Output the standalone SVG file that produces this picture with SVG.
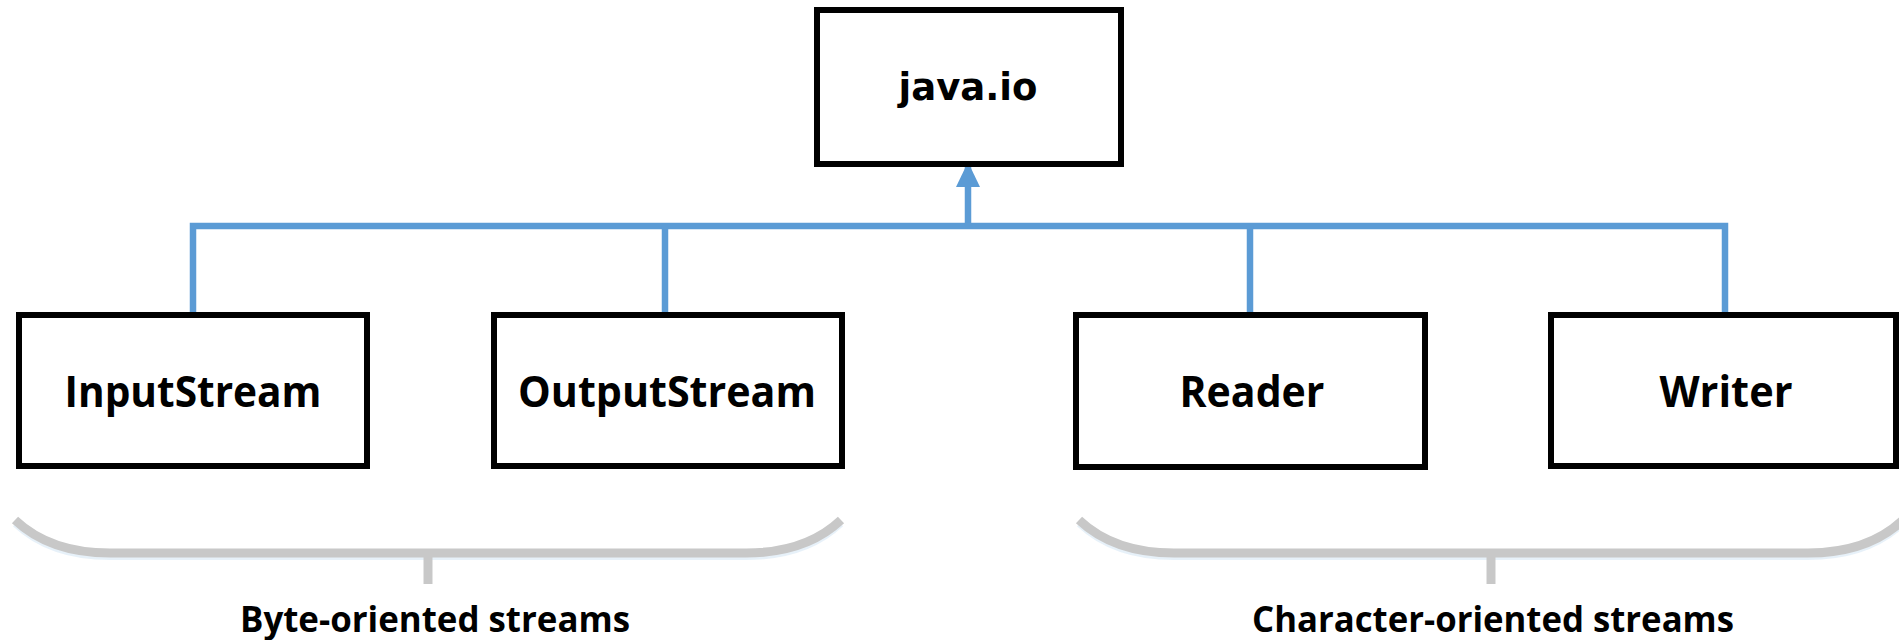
<svg xmlns="http://www.w3.org/2000/svg" width="1899" height="640" viewBox="0 0 1899 640">
<style>
.box{fill:#fff;stroke:#000;stroke-width:6}
.lbl{font-family:"Open Sans","Liberation Sans",sans-serif;font-weight:700;font-size:43px;fill:#000;text-anchor:middle}
.cap{font-family:"Open Sans","Liberation Sans",sans-serif;font-weight:700;font-size:35px;fill:#000;text-anchor:middle}
.top{font-family:"DejaVu Sans",sans-serif;font-weight:700;font-size:37px;fill:#000;text-anchor:middle}
.conn{fill:none;stroke:#5B9BD5;stroke-width:6.5;stroke-linejoin:miter}
.brace{fill:none;stroke:#C8C8C8;stroke-width:9;stroke-linecap:butt}
.shadow{fill:none;stroke:#DDEBF7;stroke-width:6;opacity:0.7}
</style>
<defs>
<marker id="arrow" markerUnits="userSpaceOnUse" markerWidth="26" markerHeight="26" viewBox="0 0 26 26" refX="24" refY="13" orient="auto">
<path d="M0,1 L25,13 L0,25 Z" fill="#5B9BD5"/>
</marker>
</defs>
<g id="connectors">
<path class="conn" d="M193,315 V226 H1725 V315"/>
<path class="conn" d="M665,226 V315"/>
<path class="conn" d="M1250,226 V315"/>
<path class="conn" d="M968,226 V163" marker-end="url(#arrow)"/>
</g>
<g id="java-io">
<rect class="box" x="817" y="10" width="304" height="154"/>
<text class="top" x="968" y="100">java.io</text>
</g>
<g id="inputstream">
<rect class="box" x="19" y="315" width="348" height="151"/>
<text class="lbl" x="193" y="407" textLength="257" lengthAdjust="spacingAndGlyphs">InputStream</text>
</g>
<g id="outputstream">
<rect class="box" x="494" y="315" width="348" height="151"/>
<text class="lbl" x="667" y="407" textLength="298" lengthAdjust="spacingAndGlyphs">OutputStream</text>
</g>
<g id="reader">
<rect class="box" x="1076" y="315" width="349" height="152"/>
<text class="lbl" x="1252" y="407" textLength="145" lengthAdjust="spacingAndGlyphs">Reader</text>
</g>
<g id="writer">
<rect class="box" x="1551" y="315" width="345" height="151"/>
<text class="lbl" x="1726" y="407" textLength="133" lengthAdjust="spacingAndGlyphs">Writer</text>
</g>
<g id="byte-group">
<path class="shadow" d="M15,524 Q50,557 110,557 L746,557 Q806,557 841,524"/>
<path class="brace" d="M15,520 Q50,553 110,553 L746,553 Q806,553 841,520"/>
<path class="brace" d="M428,553 V584" stroke-width="10"/>
<text class="cap" x="435" y="632" textLength="390" lengthAdjust="spacingAndGlyphs">Byte-oriented streams</text>
</g>
<g id="char-group">
<path class="shadow" d="M1079,524 Q1114,557 1174,557 L1808,557 Q1868,557 1903,524"/>
<path class="brace" d="M1079,520 Q1114,553 1174,553 L1808,553 Q1868,553 1903,520"/>
<path class="brace" d="M1491,553 V584" stroke-width="10"/>
<text class="cap" x="1493" y="632" textLength="482" lengthAdjust="spacingAndGlyphs">Character-oriented streams</text>
</g>
</svg>
